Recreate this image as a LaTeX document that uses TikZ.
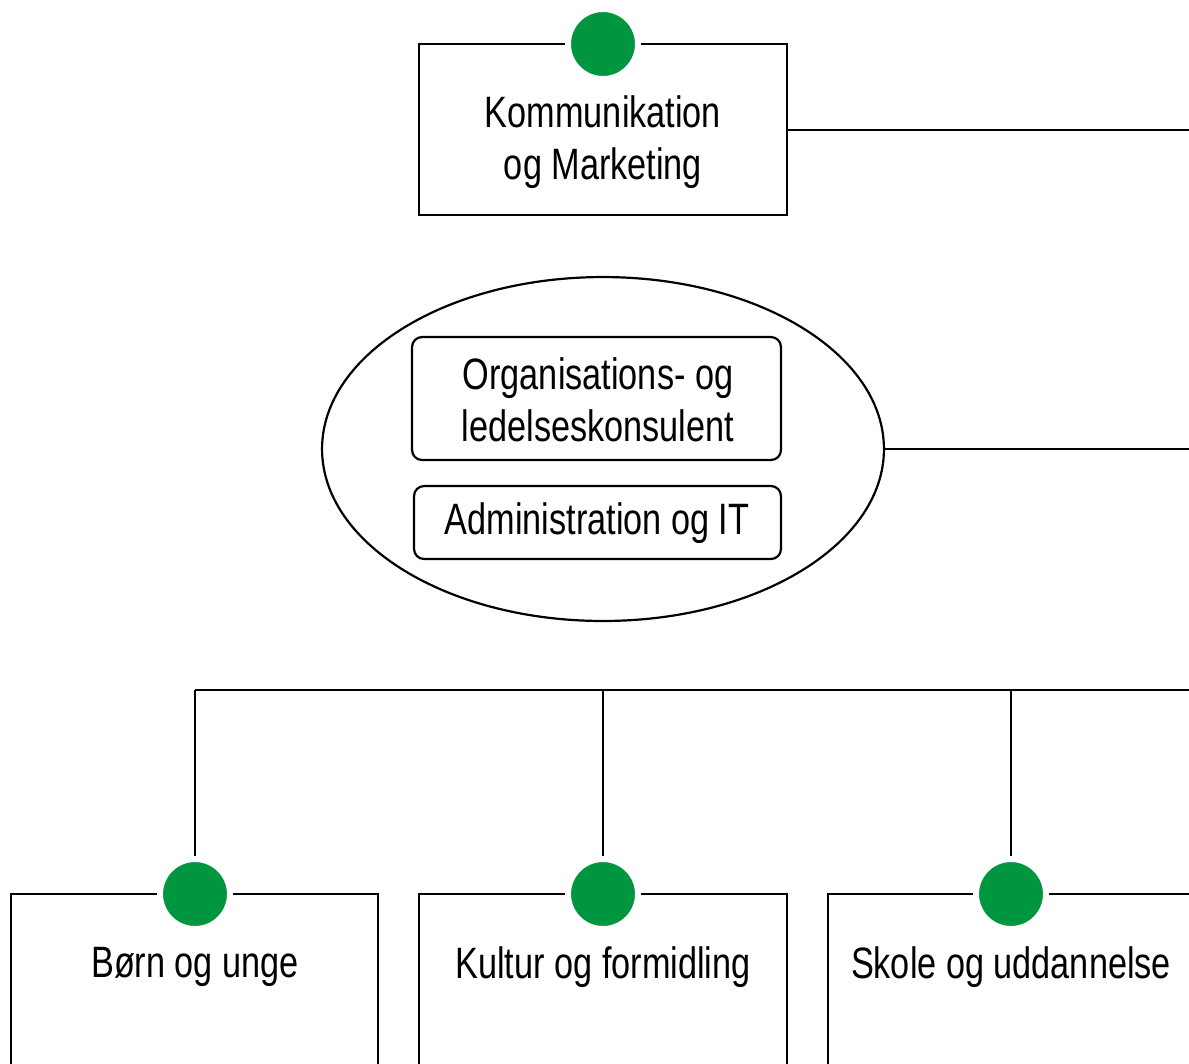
\documentclass[tikz,border=0pt]{standalone}
\usepackage{fontspec}
\setmainfont{Liberation Sans}[FakeStretch=0.78]
\usetikzlibrary{shapes.geometric}
\definecolor{dotgreen}{HTML}{00963F}
\begin{document}
\begin{tikzpicture}[x=0.02cm,y=-0.02cm,
  line width=1.25pt,
  box/.style={draw=black, rectangle, inner sep=0pt},
  rbox/.style={draw=black, rectangle, rounded corners=10*0.02cm, inner sep=0pt},
  dot/.style={circle, fill=dotgreen, draw=white, line width=3.4pt, minimum size=1.4cm, inner sep=0pt},
  lbl/.style={align=center, font=\fontsize{25}{29.5}\selectfont, inner sep=0pt}]
\useasboundingbox (0,0) rectangle (1189,1063);
\clip (0,0) rectangle (1189,1063);
% top box
\node[box, minimum width=7.36cm, minimum height=3.42cm] (km) at (603,129.5) {};
\node[lbl] (kmt) at (603,142) {Kommunikation\\og Marketing};
\coordinate (kmr) at (1189,130);
\draw (km.east |- kmr) -- (kmr);
% ellipse
\node[ellipse, draw=black, minimum width=11.24cm, minimum height=6.88cm, inner sep=0pt] (el) at (603,449) {};
\node[rbox, minimum width=7.38cm, minimum height=2.46cm] (org) at (596.5,398.5) {};
\node[lbl] (orgt) at (598,400) {Organisations- og\\ledelseskonsulent};
\node[rbox, minimum width=7.34cm, minimum height=1.46cm] (adm) at (597.5,522.5) {};
\node[lbl] (admt) at (597,523) {Administration og IT};
\coordinate (elr) at (1189,449);
\draw (el.east) -- (elr);
% bottom boxes
\node[box, minimum width=7.34cm, minimum height=4cm] (b1) at (194.5,994) {};
\node[box, minimum width=7.36cm, minimum height=4cm] (b2) at (603,994) {};
\node[box, minimum width=7.36cm, minimum height=4cm] (b3) at (1012,994) {};
\node[lbl] (b1t) at (195,967) {Børn og unge};
\node[lbl] (b2t) at (603,967) {Kultur og formidling};
\node[lbl] (b3t) at (1011,967) {Skole og uddannelse};
% bus
\coordinate (j1) at (195,690);
\coordinate (j2) at (603,690);
\coordinate (j3) at (1011,690);
\coordinate (jr) at (1189,690);
\draw (j1) -- (jr);
% dots
\node[dot] (d0) at (603,44) {};
\node[dot] (d1) at (195,894) {};
\node[dot] (d2) at (603,894) {};
\node[dot] (d3) at (1011,894) {};
\draw (j1) -- (d1.north);
\draw (j2) -- (d2.north);
\draw (j3) -- (d3.north);
\end{tikzpicture}
\end{document}
